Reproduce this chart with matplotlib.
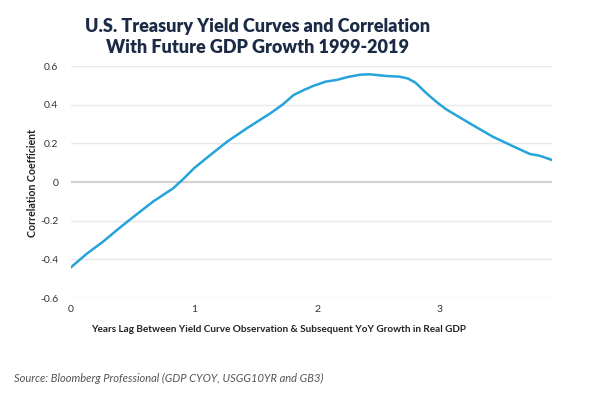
import matplotlib
matplotlib.use("Agg")
import matplotlib.pyplot as plt

lag_years = [0.0, 0.13, 0.26, 0.38, 0.51, 0.67, 0.83, 0.92, 1.0, 1.10, 1.27, 1.43, 1.62,
             1.72, 1.81, 1.90, 1.97, 2.07, 2.16, 2.25, 2.35, 2.43, 2.57, 2.67, 2.74,
             2.80, 2.89, 2.97, 3.05, 3.24, 3.43, 3.60, 3.73, 3.81, 3.91]
correlation = [-0.441, -0.37, -0.309, -0.245, -0.179, -0.10, -0.033, 0.02, 0.071, 0.123,
               0.209, 0.278, 0.355, 0.40, 0.45, 0.478, 0.497, 0.519, 0.528, 0.543, 0.555,
               0.557, 0.548, 0.545, 0.535, 0.514, 0.459, 0.415, 0.376, 0.304, 0.234,
               0.183, 0.145, 0.136, 0.114]
y_ticks = [-0.6, -0.4, -0.2, 0, 0.2, 0.4, 0.6]
y_tick_labels = ["-0.6", "-0.4", "-0.2", "0", "0.2", "0.4", "0.6"]
x_ticks = [0, 1, 2, 3]

title = "U.S. Treasury Yield Curves and Correlation\nWith Future GDP Growth 1999-2019"
xlabel = "Years Lag Between Yield Curve Observation & Subsequent YoY Growth in Real GDP"
ylabel = "Correlation Coefficient"
source = "Source: Bloomberg Professional (GDP CYOY, USGG10YR and GB3)"

plt.rcParams['font.family'] = ['Lato', 'DejaVu Sans']

W, H = 591, 393
fig = plt.figure(figsize=(W / 100, H / 100), dpi=100)
# plot area in pixels: x 71..552, y 66..298
ax = fig.add_axes([71 / W, 1 - 298 / H, (552 - 71) / W, (298 - 66) / H])

for yt in y_ticks:
    if yt == 0:
        ax.axhline(yt, color="#d2d2d2", lw=1.6, zorder=1)
    else:
        ax.axhline(yt, color="#e8e8e8", lw=1.0, zorder=1)

ax.plot(lag_years, correlation, color="#26a3db", lw=1.8, zorder=3,
        solid_joinstyle="round")

ax.set_xlim(0, (552 - 71) / 123)
ax.set_ylim(-0.6, 0.6)
ax.set_yticks(y_ticks)
ax.set_yticklabels(y_tick_labels)
ax.set_xticks(x_ticks)
for s in ax.spines.values():
    s.set_visible(False)
ax.tick_params(axis="both", length=0, labelsize=7.5, colors="#333333")
ax.tick_params(axis="y", pad=9)
ax.tick_params(axis="x", pad=5)

fig.text(258 / W, 1 - 37 / H, title, ha="center", va="center", fontsize=13,
         fontweight="heavy", color="#1b2a45", linespacing=1.25)
fig.text(279 / W, 1 - 329 / H, xlabel, ha="center", va="center", fontsize=7.2,
         fontweight="bold", color="#222222")
fig.text(33 / W, 1 - 183 / H, ylabel, ha="center", va="center", rotation=90,
         fontsize=7.6, fontweight="bold", color="#222222")
fig.text(14 / W, 1 - 378 / H, source, ha="left", va="center", fontsize=8.0,
         style="italic", color="#555555")

fig.savefig("out.png", dpi=100)
